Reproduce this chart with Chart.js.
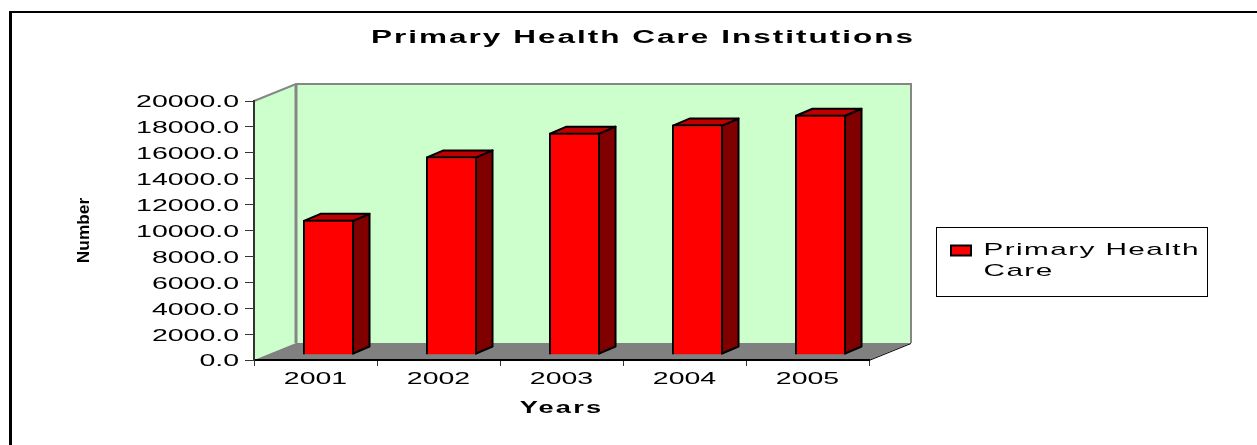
<!DOCTYPE html>
<html><head><meta charset="utf-8">
<style>html,body{margin:0;padding:0;background:#fff}canvas{display:block}</style>
<script src="https://cdn.jsdelivr.net/npm/chart.js@4"></script>
</head><body>
<canvas id="c" width="1257" height="445" style="width:1257px;height:445px"></canvas>
<script>
const categories = ['2001','2002','2003','2004','2005'];
const seriesName = 'Primary Health Care';
const seriesValues = [10440, 15335, 17170, 17790, 18550];
const legendLines = ['Primary Health','Care'];
const chartTitle = 'Primary Health Care Institutions';
const xTitle = 'Years';
const yTitle = 'Number';

const FONT = '"Liberation Sans", Arial, sans-serif';
const depth = {dx:42, dy:17};      // floor/wall depth
const barShift = {dx:13, dy:5};    // bars stand part-way into the floor
const barDepth = {dx:16.5, dy:7};

const canvas = document.getElementById('c');
const ctx = canvas.getContext('2d');

// Original text is stretched horizontally: apply this around every text call
function textStyle(t){
  if (t === chartTitle) return {sx:1.75, ls:1.15, dx:0, dy:2};
  if (t === yTitle) return {sx:1.08, ls:0, dx:0, dy:0};
  if (t === xTitle) return {sx:1.7, ls:1.3, dx:0, dy:2};
  if (legendLines.includes(t)) return {sx:1.75, ls:0.8, dx:4, dy:0};
  return {sx:1.78, ls:0, dx:0, dy:2};
}
const rawFill = ctx.fillText.bind(ctx), rawMeasure = ctx.measureText.bind(ctx);
ctx.fillText = function(t,x,y,mw){
  const s = textStyle(t);
  ctx.save(); ctx.translate(x+s.dx,y+s.dy); ctx.scale(s.sx,1);
  ctx.letterSpacing = s.ls+'px';
  rawFill(t,0,0);
  ctx.restore();
};
ctx.measureText = function(t){
  const s = textStyle(t);
  ctx.save(); ctx.letterSpacing = s.ls+'px';
  const m = rawMeasure(t);
  ctx.restore();
  return {width:m.width*s.sx, actualBoundingBoxAscent:m.actualBoundingBoxAscent, actualBoundingBoxDescent:m.actualBoundingBoxDescent};
};

function poly(c,pts,fill,stroke,lw){
  c.beginPath(); pts.forEach((p,i)=> i?c.lineTo(p[0],p[1]):c.moveTo(p[0],p[1])); c.closePath();
  if(fill){c.fillStyle=fill;c.fill();}
  if(stroke){c.strokeStyle=stroke;c.lineWidth=lw;c.lineJoin='round';c.stroke();}
}

const scene = {
  id:'scene',
  afterLayout(chart){
    const l = chart.legend;
    l.left=936; l.right=1207; l.top=227; l.bottom=296; l.width=271; l.height=69;
    const t = chart.titleBlock; t.left=29; t.right=1257;
  },
  beforeDraw(chart){
    const c = chart.ctx, a = chart.chartArea, d = depth;
    c.save();
    c.fillStyle='#fff'; c.fillRect(0,0,chart.width,chart.height);
    // frame
    c.fillStyle='#000';
    c.fillRect(9,11,1248,2); c.fillRect(9,11,3,434);
    // walls
    poly(c,[[a.left,a.bottom],[a.left+d.dx,a.bottom-d.dy],[a.left+d.dx,a.top-d.dy],[a.left,a.top]],'#CCFFCC');
    poly(c,[[a.left+d.dx,a.top-d.dy],[a.right+d.dx,a.top-d.dy],[a.right+d.dx,a.bottom-d.dy],[a.left+d.dx,a.bottom-d.dy]],'#CCFFCC');
    c.strokeStyle='#868686'; c.lineWidth=2;
    c.beginPath(); c.moveTo(a.left,a.top); c.lineTo(a.left+d.dx,a.top-d.dy); c.lineTo(a.right+d.dx,a.top-d.dy); c.lineTo(a.right+d.dx,a.bottom-d.dy); c.stroke();
    c.lineWidth=3; c.beginPath(); c.moveTo(a.left+d.dx,a.top-d.dy); c.lineTo(a.left+d.dx,a.bottom-d.dy); c.stroke();
    // floor
    poly(c,[[a.left,a.bottom],[a.right,a.bottom],[a.right+d.dx,a.bottom-d.dy],[a.left+d.dx,a.bottom-d.dy]],'#808080');
    c.strokeStyle='#000'; c.lineWidth=1; c.beginPath(); c.moveTo(a.right,a.bottom+.5); c.lineTo(a.right+d.dx,a.bottom-d.dy+.5); c.stroke();
    // legend box
    c.strokeStyle='#000'; c.lineWidth=1;
    const l = chart.legend; c.strokeRect(l.left+.5,l.top+.5,l.width,l.height);
    c.restore();
  },
  beforeDatasetsDraw(chart){
    const c = chart.ctx, b = barDepth;
    c.save();
    c.translate(barShift.dx,-barShift.dy);
    chart.getDatasetMeta(0).data.forEach(el=>{
      const L=el.x-el.width/2+1, R=el.x+el.width/2-1, T=el.y+1, B=el.base-1;
      poly(c,[[R,T],[R+b.dx,T-b.dy],[R+b.dx,B-b.dy],[R,B]],'#800000','#000',2);
      poly(c,[[L,T],[L+b.dx,T-b.dy],[R+b.dx,T-b.dy],[R,T]],'#BF0000','#000',2);
    });
  },
  afterDatasetsDraw(chart){ chart.ctx.restore(); }
};

new Chart(ctx,{
  type:'bar',
  data:{labels:categories,datasets:[{label:seriesName,data:seriesValues,backgroundColor:'#FF0000',borderColor:'#000',borderWidth:2,barPercentage:0.415,categoryPercentage:1}]},
  plugins:[scene],
  options:{
    responsive:false,animation:false,devicePixelRatio:1,
    layout:{padding:{left:0,top:0,right:388,bottom:0}},
    plugins:{
      tooltip:{enabled:false},
      title:{display:true,text:chartTitle,color:'#000',font:{family:FONT,size:18,weight:'bold',lineHeight:1.2},padding:{top:25,bottom:54.4}},
      legend:{display:true,position:'chartArea',align:'start',
        labels:{font:{family:FONT,size:17,lineHeight:1.24},color:'#000',boxWidth:20,boxHeight:10,padding:15,
          generateLabels:()=>[{text:legendLines,fillStyle:'#FF0000',strokeStyle:'#000',lineWidth:2,datasetIndex:0,hidden:false}]}}
    },
    scales:{
      x:{grid:{display:true,drawOnChartArea:false,offset:true,color:'#333',tickLength:6},border:{color:'#000',width:2},
        ticks:{color:'#000',font:{family:FONT,size:16},padding:2,maxRotation:0},
        title:{display:true,text:xTitle,color:'#000',font:{family:FONT,size:16,weight:'bold'},padding:{top:14,bottom:29}},
        afterFit(s){s.height=85;}},
      y:{min:0,max:20000,grid:{display:true,drawOnChartArea:false,color:'#333',tickLength:9},border:{color:'#333',width:2},
        ticks:{stepSize:2000,color:'#000',font:{family:FONT,size:16},padding:6,callback:v=>Number(v).toFixed(1)},
        title:{display:true,text:yTitle,color:'#000',font:{family:FONT,size:16,weight:'bold'},padding:{top:75,bottom:0}},
        afterFit(s){s.width=254;}}
    }
  }
});
</script>
</body></html>
